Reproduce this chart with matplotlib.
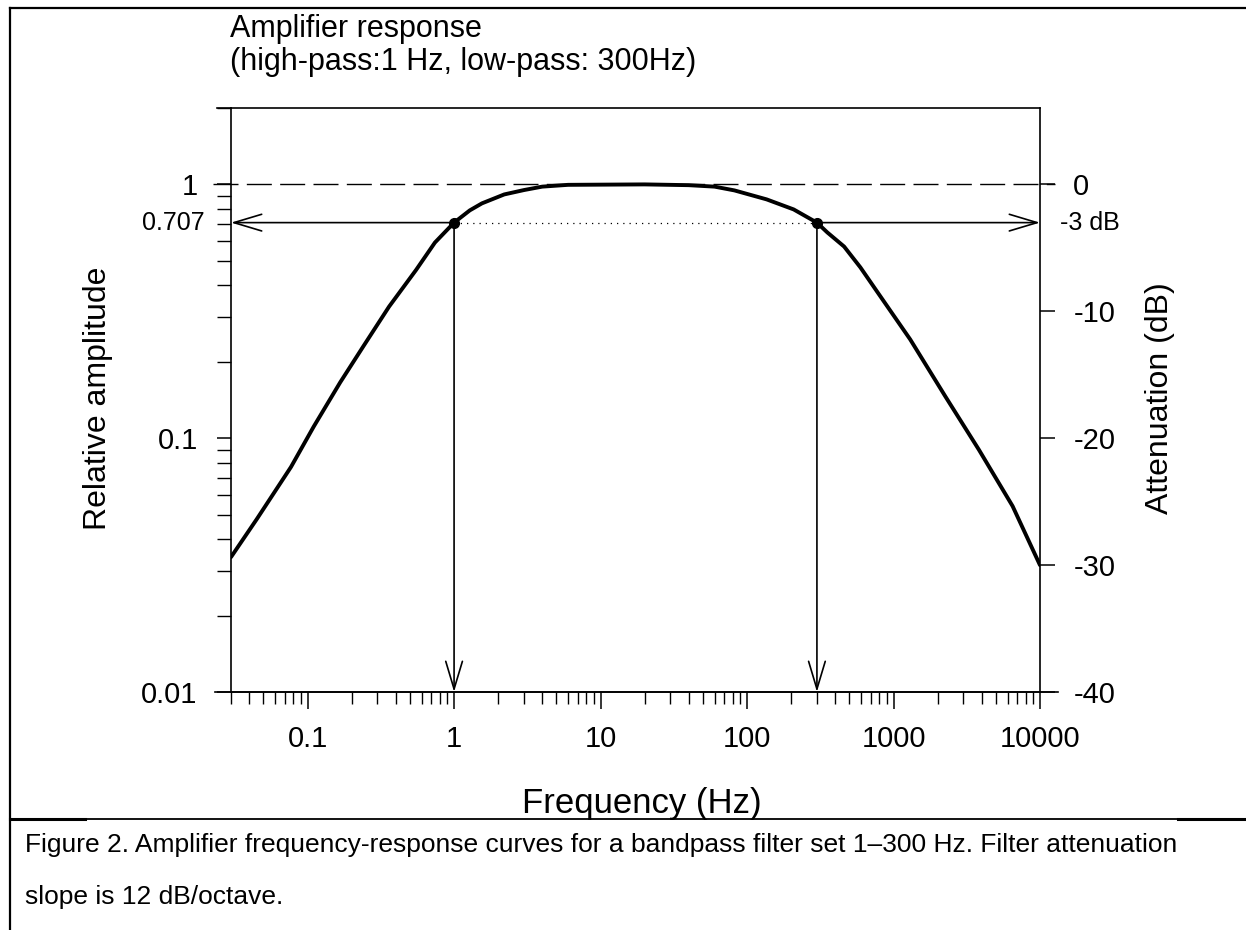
import matplotlib.pyplot as plt
import numpy as np
from matplotlib.lines import Line2D

plt.rcParams["font.family"] = ["Liberation Sans", "DejaVu Sans"]

# values
freq_hz = [0.03, 0.045, 0.077, 0.11, 0.167, 0.24, 0.36, 0.55, 0.74, 1.0, 1.28, 1.55,
           2.2, 3.0, 4.0, 6.0, 20, 40, 60, 82, 136, 208, 300, 353, 460, 594, 780, 1300,
           2260, 3830, 6500, 10000]
rel_amp = [0.034, 0.048, 0.077, 0.111, 0.166, 0.23, 0.33, 0.46, 0.59, 0.707, 0.79, 0.842,
           0.913, 0.95, 0.98, 0.996, 1.0, 0.993, 0.98, 0.947, 0.873, 0.797, 0.707, 0.647,
           0.569, 0.471, 0.375, 0.245, 0.146, 0.090, 0.054, 0.0316]
cutoffs = [1, 300]
half_power = 0.707
x_ticks = [0.1, 1, 10, 100, 1000, 10000]
x_labels = ["0.1", "1", "10", "100", "1000", "10000"]
y_ticks = [0.01, 0.1, 1]
y_labels = ["0.01", "0.1", "1"]
db_ticks = [0, -10, -20, -30, -40]
db_labels = ["0", "-10", "-20", "-30", "-40"]

W, H = 1246, 930
fig = plt.figure(figsize=(W / 100, H / 100), dpi=100)
ax = fig.add_axes([231 / W, 1 - 692 / H, (1040 - 231) / W, (692 - 108) / H])

ax.set_xscale("log")
ax.set_yscale("log")
ax.set_xlim(0.03, 10000)
ax.set_ylim(0.01, 2.0)

ax.plot(freq_hz, rel_amp, color="black", lw=2.8, solid_capstyle="round",
        solid_joinstyle="round", zorder=5)

# 0 dB reference, dashed and running past both spines
ax.plot([-0.022, 1.018], [1, 1], transform=ax.get_yaxis_transform(), color="black",
        lw=1.0, dashes=(18, 6), clip_on=False)

# dotted line between the two -3 dB points
ax.plot(cutoffs, [half_power, half_power], color="black", lw=0.9, ls=(0, (1, 4)))
ax.plot(cutoffs, [half_power, half_power], "o", color="black", ms=7, zorder=6)

head = "->,head_length=1.0,head_width=0.3"
arrow_kw = dict(arrowstyle=head, lw=1.2, color="black", shrinkA=0, shrinkB=0,
                mutation_scale=20)
ax.annotate("", xy=(0.03, half_power), xytext=(cutoffs[0], half_power), arrowprops=arrow_kw)
ax.annotate("", xy=(10000, half_power), xytext=(cutoffs[1], half_power), arrowprops=arrow_kw)
for f in cutoffs:
    ax.annotate("", xy=(f, 0.01), xytext=(f, half_power), arrowprops=arrow_kw)

# axis lines overshooting the box a little
ax.plot([-0.02, 1.022], [0, 0], transform=ax.transAxes, color="black", lw=1.2, clip_on=False)
ax.plot([-0.017, 0], [1, 1], transform=ax.transAxes, color="black", lw=1.2, clip_on=False)

for s in ax.spines.values():
    s.set_linewidth(1.2)

ax.set_xticks(x_ticks)
ax.set_xticklabels(x_labels)
ax.set_yticks(y_ticks)
ax.set_yticklabels(y_labels)
ax.tick_params(axis="x", which="major", direction="out", length=12, width=1.1,
               labelsize=21, pad=12)
ax.tick_params(axis="x", which="minor", direction="out", length=8.5, width=1.0)
ax.tick_params(axis="y", which="major", direction="out", length=10, width=1.1,
               labelsize=21, pad=14)
ax.tick_params(axis="y", which="minor", direction="out", length=10, width=1.0,
               labelleft=False)

ax.text(-0.032, half_power, "0.707", transform=ax.get_yaxis_transform(),
        ha="right", va="center", fontsize=18)

ax2 = ax.twinx()
ax2.set_ylim(20 * np.log10(0.01), 20 * np.log10(2.0))
ax2.set_yticks(db_ticks)
ax2.set_yticklabels(db_labels)
ax2.tick_params(axis="y", direction="out", length=11, width=1.1, labelsize=21, pad=13)
for s in ax2.spines.values():
    s.set_visible(False)
ax.text(1.025, half_power, "-3 dB", transform=ax.get_yaxis_transform(),
        ha="left", va="center", fontsize=18)

cx = (231 + 1040) / 2 / W
cy = 1 - 398 / H
fig.text(98 / W, cy, "Relative amplitude", rotation=90, ha="center", va="center", fontsize=23)
fig.text(1160 / W, cy, "Attenuation (dB)", rotation=90, ha="center", va="center", fontsize=23)
fig.text(cx + 6 / W, 1 - 803 / H, "Frequency (Hz)", ha="center", va="center", fontsize=25)

fig.text(230 / W, 1 - 37 / H, "Amplifier response", ha="left", va="baseline", fontsize=22)
fig.text(230 / W, 1 - 70 / H, "(high-pass:1 Hz, low-pass: 300Hz)", ha="left",
         va="baseline", fontsize=22)

# frame and caption
fig.add_artist(Line2D([10 / W, 10 / W], [0, 1 - 8 / H], color="black", lw=1.6))
fig.add_artist(Line2D([10 / W, 1], [1 - 8 / H, 1 - 8 / H], color="black", lw=1.6))
sep = 1 - 819 / H
fig.add_artist(Line2D([10 / W, 1], [sep, sep], color="black", lw=1.3))
fig.add_artist(Line2D([10 / W, 85 / W], [sep, sep], color="black", lw=2.2))
fig.add_artist(Line2D([1178 / W, 1], [sep, sep], color="black", lw=2.2))
fig.text(25 / W, 1 - 845 / H,
         "Figure 2. Amplifier frequency-response curves for a bandpass filter set 1\u2013300 Hz. Filter attenuation",
         ha="left", va="center", fontsize=19)
fig.text(25 / W, 1 - 897 / H, "slope is 12 dB/octave.", ha="left", va="center", fontsize=19)

fig.savefig("out.png", dpi=100)
